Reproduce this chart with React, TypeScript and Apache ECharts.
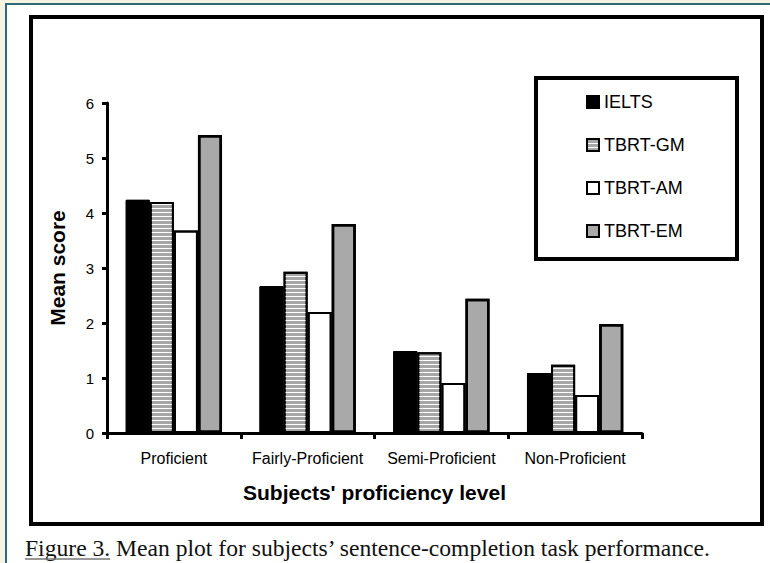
import React, { useEffect, useRef } from "react";
import * as echarts from "echarts";

const categories = ["Proficient", "Fairly-Proficient", "Semi-Proficient", "Non-Proficient"];
const seriesNames = ["IELTS", "TBRT-GM", "TBRT-AM", "TBRT-EM"];
const ielts = [4.24, 2.67, 1.49, 1.09];
const tbrtGM = [4.2, 2.93, 1.47, 1.24];
const tbrtAM = [3.68, 2.2, 0.91, 0.69];
const tbrtEM = [5.42, 3.8, 2.44, 1.98];
const captionLead = "Figure 3.";
const captionRest = " Mean plot for subjects\u2019 sentence-completion task performance.";

const SANS = '"Liberation Sans", Arial, sans-serif';
const SERIF = '"Liberation Serif", "Times New Roman", serif';

export default function App() {
  const ref = useRef<HTMLDivElement>(null);
  useEffect(() => {
    if (!ref.current) return;
    const chart = echarts.init(ref.current, undefined, { renderer: "svg" });
    const capFont = "23.6px " + SERIF;
    const ctx = document.createElement("canvas").getContext("2d");
    let leadW = 90;
    if (ctx) {
      ctx.font = capFont;
      leadW = ctx.measureText(captionLead).width;
    }
    const noDecal = { symbol: "rect", color: "rgba(0,0,0,0)" };
    const base = { type: "bar", barGap: "0%", barCategoryGap: "28%" };
    chart.setOption({
      animation: false,
      backgroundColor: "#f6f4e0",
      aria: { enabled: true, decal: { show: true } },
      graphic: [
        { type: "rect", z: -10, shape: { x: 6, y: 4, width: 764, height: 559 }, style: { fill: "#ffffff" } },
        { type: "line", z: -9, shape: { x1: 5, y1: 4, x2: 770, y2: 4 }, style: { stroke: "#2e6b78", lineWidth: 2 } },
        { type: "line", z: -9, shape: { x1: 6, y1: 3, x2: 6, y2: 563 }, style: { stroke: "#2e6b78", lineWidth: 2 } },
        { type: "rect", z: -8, shape: { x: 31, y: 17, width: 731, height: 507 }, style: { fill: "#ffffff", stroke: "#000", lineWidth: 4 } },
        { type: "rect", z: -7, shape: { x: 536, y: 78, width: 201, height: 181 }, style: { fill: "#ffffff", stroke: "#000", lineWidth: 4 } },
        {
          type: "text", x: 25, y: 548,
          style: { text: captionLead + captionRest, font: capFont, fill: "#111", textVerticalAlign: "middle", textAlign: "left" },
        },
        { type: "line", shape: { x1: 25, y1: 559, x2: 25 + leadW, y2: 559 }, style: { stroke: "#777", lineWidth: 1.5 } },
      ],
      legend: {
        orient: "vertical",
        left: 581,
        top: 87,
        icon: "rect",
        itemWidth: 12,
        itemHeight: 12,
        itemGap: 23,
        data: seriesNames,
        textStyle: { fontFamily: SANS, fontSize: 18, color: "#000", lineHeight: 20 },
      },
      grid: { left: 107, right: 128, top: 103, bottom: 130 },
      xAxis: {
        type: "category",
        data: categories,
        name: "Subjects' proficiency level",
        nameLocation: "middle",
        nameGap: 49,
        nameTextStyle: { fontFamily: SANS, fontSize: 21, fontWeight: "bold", color: "#000" },
        axisLine: { lineStyle: { color: "#000", width: 3 } },
        axisTick: { show: true, length: 6, lineStyle: { color: "#000", width: 3 } },
        axisLabel: { interval: 0, fontFamily: SANS, fontSize: 16, color: "#000", margin: 17 },
      },
      yAxis: {
        type: "value",
        min: 0,
        max: 6,
        interval: 1,
        name: "Mean score",
        nameLocation: "middle",
        nameGap: 39,
        nameRotate: 90,
        nameTextStyle: { fontFamily: SANS, fontSize: 21, fontWeight: "bold", color: "#000" },
        axisLine: { show: true, lineStyle: { color: "#000", width: 3 } },
        axisTick: { show: true, length: 5, lineStyle: { color: "#000", width: 3 } },
        axisLabel: { fontFamily: SANS, fontSize: 15, color: "#000", margin: 13 },
        splitLine: { show: false },
      },
      series: [
        { ...base, name: seriesNames[0], data: ielts, itemStyle: { color: "#000", borderColor: "#000", borderWidth: 1, decal: noDecal } },
        {
          ...base, name: seriesNames[1], data: tbrtGM,
          itemStyle: {
            color: "#a6a6a6", borderColor: "#000", borderWidth: 2,
            decal: { symbol: "rect", symbolSize: 1, dashArrayX: [10, 0], dashArrayY: [1, 3], color: "#ffffff", rotation: 0 },
          },
        },
        { ...base, name: seriesNames[2], data: tbrtAM, itemStyle: { color: "#fff", borderColor: "#000", borderWidth: 2, decal: noDecal } },
        { ...base, name: seriesNames[3], data: tbrtEM, itemStyle: { color: "#a9a9a9", borderColor: "#000", borderWidth: 2.5, decal: noDecal } },
      ],
    });
    return () => chart.dispose();
  }, []);
  return <div ref={ref} style={{ position: "absolute", left: 0, top: 0, width: 770, height: 563 }} />;
}
